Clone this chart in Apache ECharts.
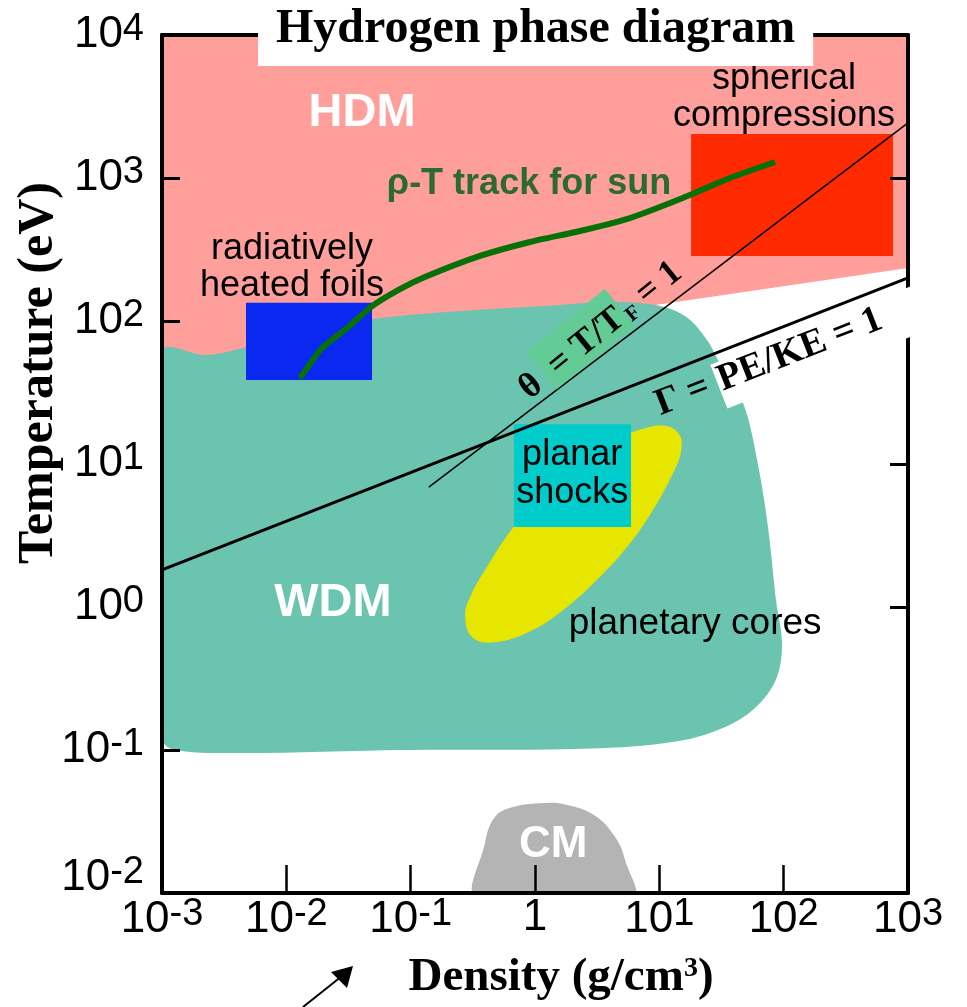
<!DOCTYPE html>
<html><head><meta charset="utf-8">
<script src="https://cdn.jsdelivr.net/npm/echarts@6/dist/echarts.min.js"></script>
<style>html,body{margin:0;padding:0;background:#fff}#c{width:967px;height:1007px}</style>
</head><body><div id="c"></div>
<script>
// ---- axis ticks ----
const xTickValues = [0.001, 0.01, 0.1, 1, 10, 100, 1000];
const xTickLabels = [['10','-3'],['10','-2'],['10','-1'],['1',''],['10','1'],['10','2'],['10','3']];
const yTickValues = [0.01, 0.1, 1, 10, 100, 1000, 10000];
const yTickLabels = [['10','-2'],['10','-1'],['10','0'],['10','1'],['10','2'],['10','3'],['10','4']];

// ---- regions (density g/cm3, temperature eV) ----
const hdmRegion = [[0.001,10000],[1000,10000],[1000,235],[7.0,125],[3.33,73.6],[0.001,38.7]];
const wdmRegion = [[0.001,60.7],[0.0023,57.8],[0.00483,65.8],[0.0155,83.8],[0.0489,103],[0.207,116],[1.10,127],[4.32,136],[9.58,129],[16.4,107],[24.2,73.6],[29.6,53.4],[47.1,26.7],[61.1,10.7],[74.8,3.62],[86.7,1.12],[97.0,0.560],[88.3,0.324],[64.6,0.213],[39.2,0.154],[15.5,0.117],[3.33,0.103],[0.0936,0.100],[0.00424,0.0953],[0.00127,0.100],[0.001,0.121]];
const cmRegion = [[0.348,0.009],[0.396,0.0224],[0.476,0.0340],[0.665,0.0399],[1.18,0.0426],[1.68,0.0419],[2.98,0.0351],[4.40,0.0247],[5.30,0.0170],[6.03,0.009]];
const planetaryCores = [[7.96,17.9],[11.7,18.4],[14.7,15.7],[14.9,12.1],[12.9,8.65],[8.89,4.77],[5.50,2.63],[3.15,1.55],[1.81,1.00],[0.964,0.690],[0.494,0.569],[0.317,0.607],[0.274,0.851],[0.300,1.17],[0.411,1.91],[0.665,3.57],[1.20,6.07],[2.30,9.84],[4.40,14.7]];
const foilsBox = [[0.00474, 38.7, 0.0489, 134]];
const sphericalBox = [[18.0, 285, 758, 2030]];
const planarBox = [[0.678, 3.62, 5.92, 19.0]];

// ---- lines ----
const gammaLine = [[0.001, 1.82], [1000, 200]];
const thetaLine = [[0.14, 6.9], [1000, 2430]];
const sunTrack = [[0.0129,39.9],[0.0194,64.7],[0.0308,89.3],[0.0489,127],[0.082,167],[0.130,203],[0.361,285],[0.912,357],[2.30,426],[5.81,525],[14.7,713],[37.0,1000],[85.2,1294]];

// ---- annotations ----
const labelTexts = ['HDM','WDM','CM','ρ-T track for sun','radiatively\nheated foils','spherical\ncompressions','planar\nshocks','planetary cores'];
const labelAnchors = [[0.0407,2850],[0.0237,1.07],[1.40,0.0217],[0.895,908],[0.0111,235],[100.7,3625],[1.99,8.51],[19.4,0.760]];
const thetaLabelAnchor = [[3.15, 92.3]];
const gammaLabelAnchor = [[109.6, 54.0]];

const SANS = '"Liberation Sans", Arial, sans-serif';
const SERIF = '"Liberation Serif", "Times New Roman", serif';
const labelStyles = [
  {font: 'bold 47px ' + SANS, fill: '#fff'},
  {font: 'bold 47px ' + SANS, fill: '#fff'},
  {font: 'bold 44px ' + SANS, fill: '#fff'},
  {font: 'bold 36px ' + SANS, fill: '#2D6A31'},
  {font: '36px ' + SANS, fill: '#000', lineHeight: 37},
  {font: '36px ' + SANS, fill: '#000', lineHeight: 37},
  {font: '36px ' + SANS, fill: '#000', lineHeight: 38},
  {font: '37px ' + SANS, fill: '#000'}
];

function tickIndex(vals, v) {
  const lv = Math.log10(v);
  return vals.findIndex(t => Math.abs(Math.log10(t) - lv) < 1e-6);
}
function fmtX(v) {
  const i = tickIndex(xTickValues, v); if (i < 0) return '';
  const [b, s] = xTickLabels[i];
  return s ? '{b|' + b + '}{s|' + s + '}' : '{b|' + b + '}';
}
function fmtY(v) {
  const i = tickIndex(yTickValues, v); if (i < 0) return '';
  const [b, s] = yTickLabels[i];
  if (i === 0) return '{B|' + b + '}{S|' + s + '}';
  return '{b|' + b + '}{s|' + s + '}';
}
const tickRich = {
  b: {fontFamily: SANS, fontSize: 44, color: '#000'},
  s: {fontFamily: SANS, fontSize: 38, color: '#000', padding: [0,0,10,0]},
  B: {fontFamily: SANS, fontSize: 44, color: '#000', padding: [0,0,30,0]},
  S: {fontFamily: SANS, fontSize: 38, color: '#000', padding: [0,0,40,0]}
};

function polySeries(name, pts, color, z, smooth) {
  return {
    type: 'custom', name, z, clip: true, silent: true, data: pts,
    encode: {x: 0, y: 1},
    renderItem: (params, api) => {
      if (params.dataIndex !== 0) return;
      const p = pts.map(d => api.coord(d));
      return {type: 'polygon', shape: {points: p, smooth: smooth || 0}, style: {fill: color}};
    }
  };
}
function rectSeries(name, data, color, z) {
  return {
    type: 'custom', name, z, clip: true, silent: true, data,
    encode: {x: [0, 2], y: [1, 3]},
    renderItem: (params, api) => {
      const a = api.coord([api.value(0), api.value(1)]);
      const b = api.coord([api.value(2), api.value(3)]);
      return {type: 'rect', shape: {x: Math.min(a[0], b[0]), y: Math.min(a[1], b[1]), width: Math.abs(b[0]-a[0]), height: Math.abs(b[1]-a[1])}, style: {fill: color}};
    }
  };
}
function lineAngle(api, line) {
  const a = api.coord(line[0]), b = api.coord(line[1]);
  return Math.atan2(a[1] - b[1], b[0] - a[0]);
}

const chart = echarts.init(document.getElementById('c'), null, {renderer: 'canvas'});
chart.setOption({
  animation: false,
  backgroundColor: '#fff',
  title: {
    text: 'Hydrogen phase diagram', left: 258, top: 0, z: 20,
    backgroundColor: '#fff', padding: [4, 18, 10, 18],
    textStyle: {fontFamily: SERIF, fontWeight: 'bold', fontSize: 48, color: '#000', lineHeight: 52}
  },
  grid: {left: 162, right: 59, top: 35, bottom: 114, containLabel: false},
  xAxis: [
    {type: 'log', logBase: 10, min: 0.001, max: 1000, position: 'bottom', z: 5,
     axisLine: {lineStyle: {color: '#000', width: 4}},
     axisTick: {inside: true, length: 28, lineStyle: {color: '#000', width: 2.5}, customValues: [0.01, 0.1, 1, 10, 100]},
     axisLabel: {customValues: xTickValues, formatter: fmtX, rich: tickRich, margin: 3, showMinLabel: true, showMaxLabel: true},
     splitLine: {show: false}},
    {type: 'log', logBase: 10, min: 0.001, max: 1000, position: 'top', z: 5,
     axisLine: {lineStyle: {color: '#000', width: 4}},
     axisTick: {show: false}, axisLabel: {show: false}, splitLine: {show: false}}
  ],
  yAxis: [
    {type: 'log', logBase: 10, min: 0.01, max: 10000, position: 'left', z: 5,
     axisLine: {lineStyle: {color: '#000', width: 4}},
     axisTick: {inside: true, length: 18, lineStyle: {color: '#000', width: 3}, customValues: [1000, 100, 0.1]},
     axisLabel: {customValues: yTickValues, formatter: fmtY, rich: tickRich, margin: 18, showMinLabel: true, showMaxLabel: true},
     splitLine: {show: false}},
    {type: 'log', logBase: 10, min: 0.01, max: 10000, position: 'right', z: 5,
     axisLine: {lineStyle: {color: '#000', width: 4}},
     axisTick: {inside: true, length: 18, lineStyle: {color: '#000', width: 3}, customValues: [1000, 100, 10, 1]},
     axisLabel: {show: false}, splitLine: {show: false}}
  ],
  graphic: {elements: [
    {type: 'text', x: 39, y: 373, rotation: Math.PI / 2, z: 30,
     style: {text: 'Temperature (eV)', font: 'bold 50px ' + SERIF, fill: '#000', align: 'center', verticalAlign: 'middle'}},
    {type: 'text', x: 561, y: 978, z: 30,
     style: {text: '{t|Density (g/cm}{s|3}{t|)}', align: 'center', verticalAlign: 'middle',
       rich: {t: {fontFamily: SERIF, fontWeight: 'bold', fontSize: 47, color: '#000'},
              s: {fontFamily: SERIF, fontWeight: 'bold', fontSize: 28, color: '#000', padding: [0,0,18,0]}}}},
    {type: 'line', z: 30, shape: {x1: 303, y1: 1007, x2: 342, y2: 976}, style: {stroke: '#000', lineWidth: 2}},
    {type: 'polygon', z: 30, shape: {points: [[353, 966], [331, 972], [347, 988]]}, style: {fill: '#000'}}
  ]},
  series: [
    polySeries('HDM', hdmRegion, '#FF9F9B', 1, 0),
    polySeries('WDM', wdmRegion, '#6AC4B0', 1.2, 0.35),
    polySeries('CM', cmRegion, '#B4B4B4', 1.2, 0.4),
    polySeries('planetary cores', planetaryCores, '#E6E600', 1.5, 0.4),
    rectSeries('radiatively heated foils', foilsBox, '#0A28F0', 1.6),
    rectSeries('spherical compressions', sphericalBox, '#FF2A00', 1.6),
    rectSeries('planar shocks', planarBox, '#00CCCC', 1.7),
    {type: 'line', name: 'Gamma', z: 3, data: gammaLine, showSymbol: false, silent: true,
     lineStyle: {color: '#000', width: 3}},
    {type: 'line', name: 'Theta', z: 3, data: thetaLine, showSymbol: false, silent: true,
     lineStyle: {color: '#000', width: 1.5}},
    {type: 'line', name: 'sun', z: 3.5, data: sunTrack, showSymbol: false, silent: true, smooth: 0.2,
     lineStyle: {color: '#077007', width: 6}},
    {type: 'custom', name: 'labels', z: 4, silent: true, data: labelAnchors, encode: {x: 0, y: 1},
     renderItem: (params, api) => {
       const i = params.dataIndex;
       const p = api.coord([api.value(0), api.value(1)]);
       return {type: 'text', x: p[0], y: p[1],
         style: Object.assign({text: labelTexts[i], align: 'center', verticalAlign: 'middle'}, labelStyles[i])};
     }},
    {type: 'custom', name: 'theta label', z: 4, silent: true, data: thetaLabelAnchor, encode: {x: 0, y: 1},
     renderItem: (params, api) => {
       const p = api.coord([api.value(0), api.value(1)]);
       return {type: 'text', x: p[0], y: p[1], rotation: lineAngle(api, thetaLine) + 0.03,
         style: {text: '{a|θ }{g| = T/T}{f|F}{a| = 1}', align: 'center', verticalAlign: 'middle',
           rich: {
             a: {fontFamily: SERIF, fontWeight: 'bold', fontSize: 36, color: '#000', padding: [12,0,0,0]},
             g: {fontFamily: SERIF, fontWeight: 'bold', fontSize: 36, color: '#000', padding: [12,4,0,0], backgroundColor: '#63CC96'},
             f: {fontFamily: SERIF, fontWeight: 'bold', fontSize: 21, color: '#000', verticalAlign: 'bottom'}
           }}};
     }},
    {type: 'custom', name: 'gamma label', z: 10, silent: true, data: gammaLabelAnchor, encode: {x: 0, y: 1},
     renderItem: (params, api) => {
       const p = api.coord([api.value(0), api.value(1)]);
       return {type: 'text', x: p[0], y: p[1], rotation: lineAngle(api, gammaLine),
         style: {text: '{a|Γ = }{w|PE/KE = 1}', align: 'center', verticalAlign: 'middle',
           rich: {
             a: {fontFamily: SERIF, fontWeight: 'bold', fontSize: 38, color: '#000', padding: [0,0,9,0]},
             w: {fontFamily: SERIF, fontWeight: 'bold', fontSize: 38, color: '#000', padding: [0,39,9,2], backgroundColor: '#fff'}
           }}};
     }}
  ]
});
</script></body></html>
